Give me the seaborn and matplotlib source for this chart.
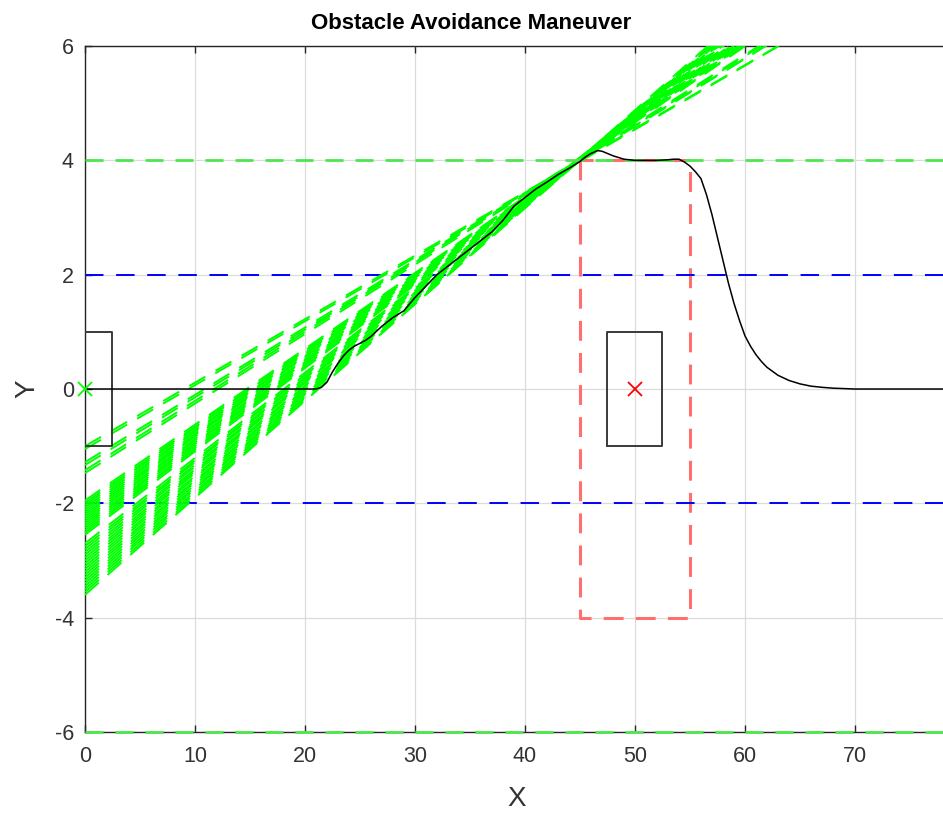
import numpy as np
import pandas as pd
import matplotlib
matplotlib.use("Agg")
import matplotlib.pyplot as plt
import seaborn as sns

sns.set_theme(style="whitegrid")
plt.rcParams['font.family'] = ['Liberation Sans', 'DejaVu Sans']

# ego trajectory
traj_x = [0, 10, 21, 21.5, 22, 22.5, 23, 23.5, 24, 24.5, 25, 25.5, 26, 27, 28, 29,
          30, 31, 32, 33, 34, 35, 36, 37, 38, 39, 40, 41, 42, 43, 44, 45, 45.5,
          46, 46.6, 47, 47.5, 48, 48.5, 49, 50, 52, 53, 53.5, 54, 54.5, 55, 55.5,
          56, 56.5, 57, 57.5, 58, 58.5, 59, 59.5, 60, 60.5, 61, 61.5, 62, 63, 64,
          65, 66, 67, 68, 70, 80]
traj_y = [0, 0, 0, 0.03, 0.12, 0.3, 0.45, 0.58, 0.68, 0.75, 0.8, 0.85, 0.92, 1.1,
          1.25, 1.37, 1.6, 1.8, 2.0, 2.15, 2.3, 2.45, 2.6, 2.75, 2.95, 3.2, 3.35,
          3.5, 3.62, 3.75, 3.86, 3.98, 4.06, 4.12, 4.17, 4.16, 4.12, 4.08, 4.05,
          4.02, 4.0, 4.0, 4.01, 4.02, 4.02, 3.97, 3.9, 3.8, 3.68, 3.4, 3.05, 2.65,
          2.25, 1.85, 1.5, 1.2, 0.93, 0.75, 0.6, 0.48, 0.38, 0.24, 0.15, 0.09,
          0.05, 0.03, 0.015, 0, 0]

# candidate paths: value at x=0 and at x=45
cand_y0 = [-1.0, -1.05, -1.28, -1.33, -1.42, -1.47,
           -1.95, -1.99, -2.03, -2.07, -2.11, -2.15, -2.19, -2.23, -2.27, -2.31,
           -2.35, -2.39, -2.43, -2.47, -2.51, -2.55,
           -2.70, -2.75, -2.80, -2.85, -2.90, -2.95, -3.00, -3.05, -3.10, -3.15,
           -3.20, -3.25, -3.30, -3.35, -3.40, -3.45, -3.50, -3.55, -3.60]
cand_y45 = [4.0, 3.98, 4.02, 4.0, 4.03, 4.0,
            4.02, 4.0, 4.04, 4.01, 4.03, 4.0, 4.02, 4.05, 4.01, 4.03,
            4.0, 4.04, 4.02, 4.0, 4.03, 4.01,
            4.02, 4.0, 4.04, 4.01, 4.03, 4.0, 4.02, 4.05, 4.01, 4.03,
            4.0, 4.04, 4.02, 4.0, 4.03, 4.01, 4.02, 4.0, 4.03]

lane_lines = [2, -2]
road_edges = [4, -6]
ego_pos = (0, 0)
obstacle_pos = (50, 0)
car_half_len = 2.5
car_half_wid = 1.0
safe_x = [45, 55]
safe_y = [-4, 4]

fig = plt.figure(figsize=(9.43, 8.13), dpi=100)
ax = fig.add_axes([0.0901, 0.0996, 0.9332, 0.8438])

x_end = 80
for y0, y45 in zip(cand_y0, cand_y45):
    k = (y45 - y0) / 45.0
    ax.plot([0, x_end], [y0, y0 + k * x_end], color='#00ff00', lw=1.4,
            dashes=(9.5, 6), zorder=3)

# safety zone
ax.plot([safe_x[0], safe_x[0], safe_x[1], safe_x[1], safe_x[0]],
        [safe_y[1], safe_y[0], safe_y[0], safe_y[1], safe_y[1]],
        color='#ff6f6f', lw=2.2, dashes=(6.5, 4), zorder=2)

for y in road_edges:
    ax.axhline(y, color='#4ee64e', lw=2.0, dashes=(6.5, 4.3), zorder=4,
               clip_on=False)
for y in lane_lines:
    ax.axhline(y, color='#0000ff', lw=1.4, dashes=(9.5, 6.5), zorder=2)

# vehicles
for cx, cy in [ego_pos, obstacle_pos]:
    ax.plot([cx - car_half_len, cx + car_half_len, cx + car_half_len, cx - car_half_len, cx - car_half_len],
            [cy - car_half_wid, cy - car_half_wid, cy + car_half_wid, cy + car_half_wid, cy - car_half_wid],
            color='#3a3a3a', lw=1.4, zorder=3)
ax.plot(*ego_pos, marker='x', color='#00ff00', ms=10, mew=1.3, zorder=6, clip_on=False)
ax.plot(*obstacle_pos, marker='x', color='#ff0000', ms=10, mew=1.3, zorder=6)

df = pd.DataFrame({'x': traj_x, 'y': traj_y})
sns.lineplot(data=df, x='x', y='y', sort=False, color='black', lw=1.1, ax=ax, zorder=5)

ax.set_xlim(0, 80)
ax.set_ylim(-6, 6)
ax.set_xticks([0, 10, 20, 30, 40, 50, 60, 70, 80])
ax.set_yticks([-6, -4, -2, 0, 2, 4, 6])
ax.set_xticklabels(['0', '10', '20', '30', '40', '50', '60', '70', ''])
ax.set_yticklabels(['-6', '-4', '-2', '0', '2', '4', '6'])
ax.grid(True, color='#dcdcdc', lw=0.9)
ax.set_facecolor('white')
for s in ax.spines.values():
    s.set_color('#262626')
    s.set_linewidth(1.0)
ax.tick_params(direction='in', length=5, width=1, colors='#262626',
               labelsize=15.5, top=True, bottom=True, left=True, pad=8)
ax.tick_params(axis='x', labelcolor='#333333', pad=10)
ax.tick_params(axis='y', labelcolor='#333333')
ax.set_xlabel('X', fontsize=20, color='#333333', labelpad=14)
ax.xaxis.label.set_x(0.491)
ax.set_ylabel('Y', fontsize=20, color='#333333', labelpad=10)
ax.set_title('Obstacle Avoidance Maneuver', fontsize=16, fontweight='bold',
             color='black', pad=12, x=0.4386)

fig.savefig('out.png', dpi=100)
plt.close(fig)
